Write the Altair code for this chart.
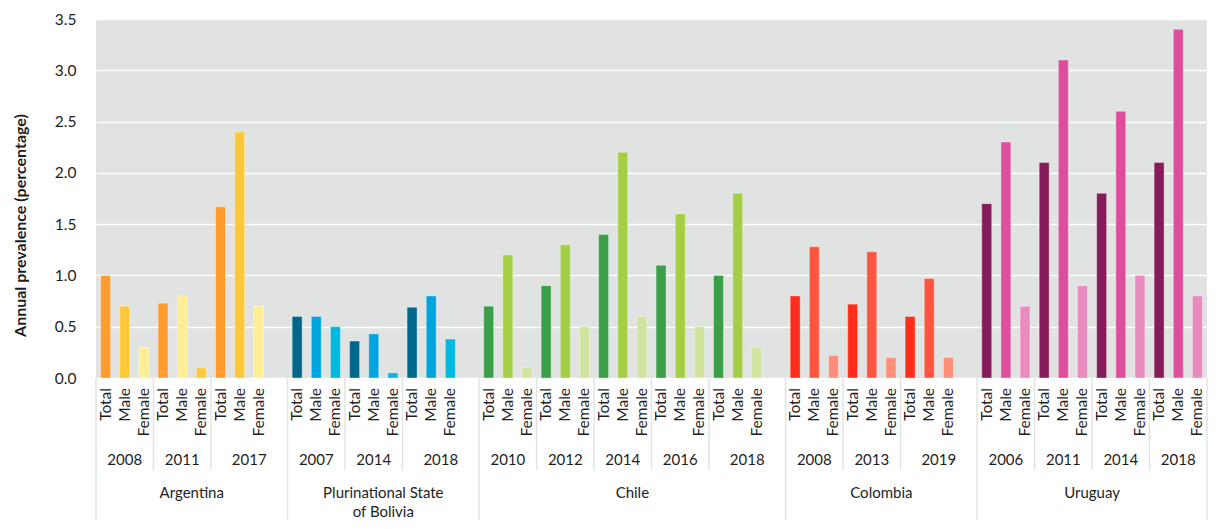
import altair as alt
import pandas as pd

# ---------------- data ----------------
countries = ["Argentina", "Plurinational State of Bolivia", "Chile", "Colombia", "Uruguay"]
country_lines = [["Argentina"], ["Plurinational State", "of Bolivia"], ["Chile"], ["Colombia"], ["Uruguay"]]
years = [
    [2008, 2011, 2017],
    [2007, 2014, 2018],
    [2010, 2012, 2014, 2016, 2018],
    [2008, 2013, 2019],
    [2006, 2011, 2014, 2018],
]
sexes = ["Total", "Male", "Female"]
values = [
    [[1.00, 0.70, 0.30], [0.73, 0.80, 0.10], [1.67, 2.40, 0.70]],
    [[0.60, 0.60, 0.50], [0.36, 0.43, 0.05], [0.69, 0.80, 0.38]],
    [[0.70, 1.20, 0.10], [0.90, 1.30, 0.50], [1.40, 2.20, 0.60], [1.10, 1.60, 0.50], [1.00, 1.80, 0.30]],
    [[0.80, 1.28, 0.22], [0.72, 1.23, 0.20], [0.60, 0.97, 0.20]],
    [[1.70, 2.30, 0.70], [2.10, 3.10, 0.90], [1.80, 2.60, 1.00], [2.10, 3.40, 0.80]],
]
# empty category slot after the last year of each country
blank_after = [1, 1, 1, 1, 0]
# shade used for (Total, Male, Female); Argentina 2011 uses swapped tones
shade_override = {("Argentina", 2011): [0, 2, 1]}
palette = [
    ["#FF9B2F", "#FFC73A", "#FFEE94"],
    ["#00678F", "#00A4DF", "#00B9DF"],
    ["#3A9F46", "#A4CE43", "#D1E49E"],
    ["#FF2D1A", "#FF5540", "#FF8E7B"],
    ["#851C59", "#DD4F9D", "#E98BBE"],
]

# ---------------- build tables ----------------
bars, year_rows, ydiv, cdiv, crow = [], [], [], [], []
slot = 0
color_keys, color_vals = [], []
for ci, c in enumerate(countries):
    for k in range(3):
        color_keys.append(f"{ci}-{k}")
        color_vals.append(palette[ci][k])
    cstart = slot
    cdiv.append(cstart)
    for yi, yr in enumerate(years[ci]):
        gstart = slot
        shades = shade_override.get((c, yr), [0, 1, 2])
        for si, sx in enumerate(sexes):
            bars.append(dict(slot=slot, value=values[ci][yi][si], sex=sx,
                             key=f"{ci}-{shades[si]}"))
            slot += 1
        last = yi == len(years[ci]) - 1
        if last:
            slot += blank_after[ci]
        year_rows.append(dict(year=str(yr), xc=(gstart + slot) / 2))
        if not last:
            ydiv.append(slot)
    for li, line in enumerate(country_lines[ci]):
        crow.append(dict(label=line, xc=(cstart + slot) / 2, line=li))
cdiv.append(slot)
total_slots = slot

bars_df = pd.DataFrame(bars)
years_df = pd.DataFrame(year_rows)
ydiv_df = pd.DataFrame({"pos": ydiv})
cdiv_df = pd.DataFrame({"pos": cdiv})
country_df = pd.DataFrame(crow)

FONT = "Lato"
TXT = "#1e1e1e"
W, H = 1111, 359

xscale = alt.Scale(domain=[0, total_slots], nice=False, zero=False)

bar_layer = (
    alt.Chart(bars_df)
    .transform_calculate(x0="datum.slot + 0.24", x1="datum.slot + 0.76", zero="0")
    .mark_bar(stroke="white", strokeOpacity=0.35, strokeWidth=1)
    .encode(
        x=alt.X("x0:Q", scale=xscale, axis=None),
        x2="x1:Q",
        y=alt.Y(
            "value:Q",
            scale=alt.Scale(domain=[0, 3.5], nice=False),
            axis=alt.Axis(
                values=[0, 0.5, 1, 1.5, 2, 2.5, 3, 3.5],
                format=".1f",
                title="Annual prevalence (percentage)",
                titleX=-76,
                titleY=206,
                titleAngle=270,
                titleAlign="center",
                titleBaseline="middle",
            ),
        ),
        y2="zero:Q",
        color=alt.Color("key:N", scale=alt.Scale(domain=color_keys, range=color_vals), legend=None),
    )
)

sex_layer = (
    alt.Chart(bars_df)
    .transform_calculate(xc="datum.slot + 0.5")
    .mark_text(angle=270, align="right", baseline="middle", font=FONT, fontSize=15.5, color=TXT)
    .encode(x=alt.X("xc:Q", scale=xscale, axis=None), y=alt.value(H + 10), text="sex:N")
)

year_layer = (
    alt.Chart(years_df)
    .mark_text(align="center", baseline="middle", font=FONT, fontSize=15, color=TXT)
    .encode(x=alt.X("xc:Q", scale=xscale, axis=None), y=alt.value(H + 82), text="year:N")
)

country_l0 = (
    alt.Chart(country_df)
    .transform_filter("datum.line == 0")
    .mark_text(align="center", baseline="middle", font=FONT, fontSize=15, color=TXT)
    .encode(x=alt.X("xc:Q", scale=xscale, axis=None), y=alt.value(H + 115), text="label:N")
)
country_l1 = (
    alt.Chart(country_df)
    .transform_filter("datum.line == 1")
    .mark_text(align="center", baseline="middle", font=FONT, fontSize=15, color=TXT)
    .encode(x=alt.X("xc:Q", scale=xscale, axis=None), y=alt.value(H + 134), text="label:N")
)

ydiv_layer = (
    alt.Chart(ydiv_df)
    .mark_rule(color="#e2e4e3", strokeWidth=1.5)
    .encode(x=alt.X("pos:Q", scale=xscale, axis=None), y=alt.value(H), y2=alt.value(H + 92))
)
cdiv_layer = (
    alt.Chart(cdiv_df)
    .mark_rule(color="#e2e4e3", strokeWidth=1.5)
    .encode(x=alt.X("pos:Q", scale=xscale, axis=None), y=alt.value(H), y2=alt.value(H + 142))
)

chart = (
    alt.layer(bar_layer, ydiv_layer, cdiv_layer, sex_layer, year_layer, country_l0, country_l1)
    .properties(
        width=W,
        height=H,
        padding={"left": 88, "top": 11, "right": 3, "bottom": 143},
        autosize=alt.AutoSizeParams(type="none"),
        background="white",
    )
    .configure_view(fill="#E0E3E1", strokeWidth=0)
    .configure_axisY(
        domain=False,
        ticks=False,
        grid=True,
        gridColor="white",
        gridWidth=1.5,
        labelFont=FONT,
        labelFontSize=15.5,
        labelColor=TXT,
        labelPadding=20,
        titleFont=FONT,
        titleFontSize=16,
        titleFontWeight="bold",
        titleColor=TXT,
    )
)

chart.save("out.html", embed_options={"renderer": "svg", "actions": False})
